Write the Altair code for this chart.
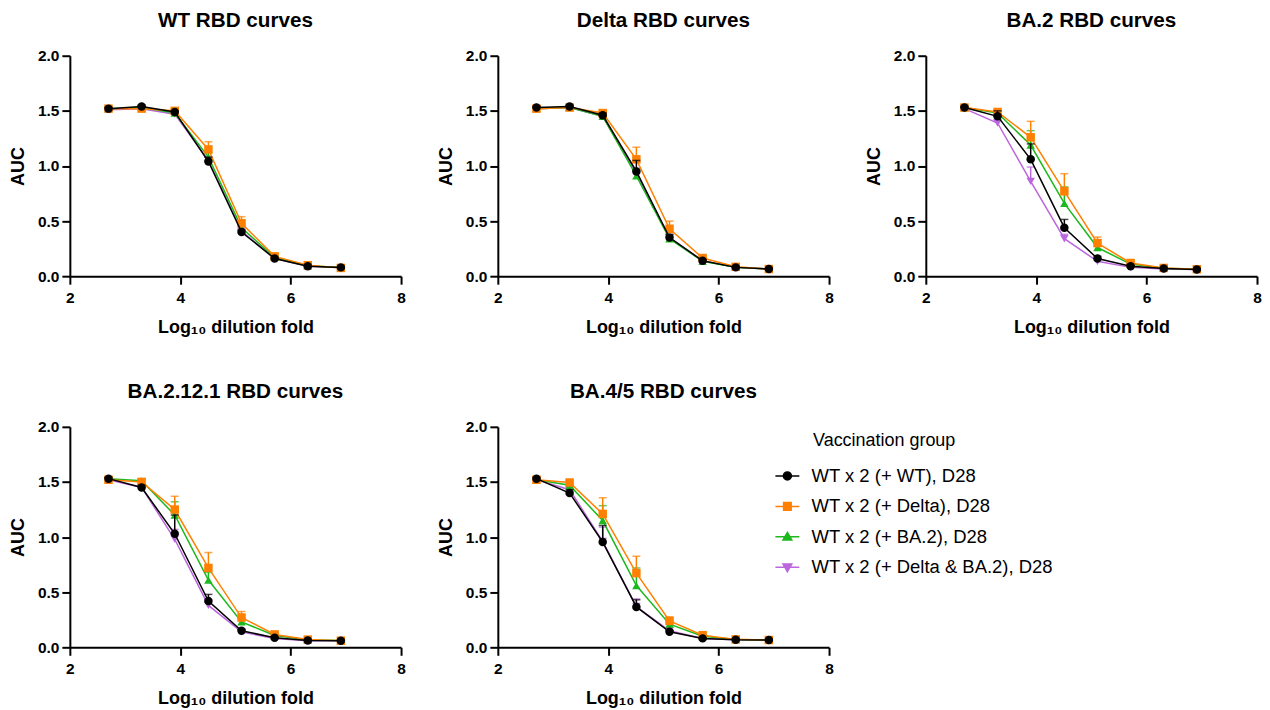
import altair as alt
import pandas as pd

X = [2.70, 3.30, 3.90, 4.51, 5.11, 5.71, 6.31, 6.91]

GROUPS = ["WT x 2 (+ WT), D28", "WT x 2 (+ Delta), D28",
          "WT x 2 (+ BA.2), D28", "WT x 2 (+ Delta & BA.2), D28"]
COLORS = ["#000000", "#FF8000", "#1DB81D", "#BB66DD"]
SHAPES = ["circle", "square", "triangle-up", "triangle-down"]
TITLES = ["WT RBD curves", "Delta RBD curves", "BA.2 RBD curves",
          "BA.2.12.1 RBD curves", "BA.4/5 RBD curves"]

# mean AUC per group (rows: WT, Delta, BA.2, Delta & BA.2 boosts)
WT_MEAN = [[1.52, 1.54, 1.49, 1.04, 0.40, 0.16, 0.09, 0.08],
           [1.52, 1.52, 1.50, 1.15, 0.48, 0.18, 0.10, 0.075],
           [1.52, 1.53, 1.48, 1.08, 0.44, 0.17, 0.095, 0.078],
           [1.51, 1.52, 1.47, 1.05, 0.41, 0.16, 0.09, 0.078]]
WT_SEM = [[0.01, 0.01, 0.01, 0.04, 0.02, 0.01, 0.005, 0.005],
          [0.01, 0.01, 0.02, 0.07, 0.06, 0.02, 0.01, 0.005],
          [0.01, 0.01, 0.01, 0.04, 0.03, 0.01, 0.005, 0.005],
          [0.01, 0.01, 0.01, 0.03, 0.02, 0.01, 0.005, 0.005]]

DELTA_MEAN = [[1.53, 1.54, 1.46, 0.95, 0.35, 0.14, 0.08, 0.065],
              [1.52, 1.53, 1.48, 1.06, 0.43, 0.165, 0.085, 0.065],
              [1.52, 1.53, 1.45, 0.91, 0.34, 0.135, 0.08, 0.065],
              [1.52, 1.53, 1.45, 0.93, 0.35, 0.14, 0.08, 0.065]]
DELTA_SEM = [[0.01, 0.01, 0.02, 0.10, 0.03, 0.01, 0.005, 0.005],
             [0.01, 0.01, 0.02, 0.11, 0.07, 0.02, 0.005, 0.005],
             [0.01, 0.01, 0.02, 0.05, 0.02, 0.01, 0.005, 0.005],
             [0.01, 0.01, 0.02, 0.05, 0.02, 0.01, 0.005, 0.005]]

BA2_MEAN = [[1.53, 1.45, 1.06, 0.44, 0.16, 0.09, 0.07, 0.06],
            [1.53, 1.49, 1.26, 0.77, 0.30, 0.12, 0.075, 0.063],
            [1.53, 1.48, 1.19, 0.66, 0.26, 0.11, 0.073, 0.063],
            [1.52, 1.39, 0.86, 0.34, 0.135, 0.08, 0.065, 0.06]]
BA2_SEM = [[0.01, 0.05, 0.14, 0.075, 0.02, 0.01, 0.005, 0.005],
           [0.01, 0.02, 0.145, 0.16, 0.055, 0.015, 0.005, 0.005],
           [0.01, 0.02, 0.13, 0.15, 0.04, 0.01, 0.005, 0.005],
           [0.01, 0.03, 0.13, 0.04, 0.01, 0.005, 0.005, 0.005]]

BA2121_MEAN = [[1.53, 1.45, 1.03, 0.42, 0.15, 0.087, 0.062, 0.06],
               [1.52, 1.50, 1.25, 0.72, 0.27, 0.117, 0.07, 0.06],
               [1.53, 1.51, 1.20, 0.61, 0.23, 0.107, 0.068, 0.062],
               [1.52, 1.45, 0.98, 0.38, 0.14, 0.08, 0.06, 0.06]]
BA2121_SEM = [[0.01, 0.02, 0.17, 0.06, 0.01, 0.005, 0.005, 0.005],
              [0.01, 0.02, 0.12, 0.14, 0.055, 0.01, 0.005, 0.005],
              [0.01, 0.02, 0.12, 0.07, 0.03, 0.01, 0.005, 0.005],
              [0.01, 0.02, 0.09, 0.05, 0.01, 0.005, 0.005, 0.005]]

BA45_MEAN = [[1.53, 1.40, 0.955, 0.366, 0.141, 0.081, 0.069, 0.066],
             [1.52, 1.495, 1.21, 0.673, 0.24, 0.11, 0.072, 0.066],
             [1.52, 1.47, 1.15, 0.56, 0.21, 0.10, 0.07, 0.065],
             [1.52, 1.43, 0.96, 0.37, 0.15, 0.08, 0.068, 0.065]]
BA45_SEM = [[0.01, 0.03, 0.15, 0.065, 0.01, 0.005, 0.005, 0.005],
            [0.01, 0.01, 0.147, 0.153, 0.035, 0.01, 0.005, 0.005],
            [0.01, 0.02, 0.135, 0.16, 0.03, 0.01, 0.005, 0.005],
            [0.01, 0.02, 0.13, 0.07, 0.01, 0.005, 0.005, 0.005]]

PANEL_MEANS = [WT_MEAN, DELTA_MEAN, BA2_MEAN, BA2121_MEAN, BA45_MEAN]
PANEL_SEMS = [WT_SEM, DELTA_SEM, BA2_SEM, BA2121_SEM, BA45_SEM]

# legend glyphs (unit box -1..1): a short line through the marker
LEGEND_PATHS = [
    "M-3,0H3M1,0A1,1,0,1,1,-1,0A1,1,0,1,1,1,0Z",
    "M-3,0H3M-0.95,-0.95H0.95V0.95H-0.95Z",
    "M-3,0H3M0,-1.1L1.1,0.8H-1.1Z",
    "M-3,0H3M0,1.1L1.1,-0.8H-1.1Z",
]

FONT = "Liberation Sans"
W, H = 332, 221

x_enc = alt.X("x:Q", title="Log₁₀ dilution fold",
              scale=alt.Scale(domain=[2, 8], nice=False),
              axis=alt.Axis(values=[2, 4, 6, 8], format="d"))


def y_enc(field):
    return alt.Y(field, type="quantitative", title="AUC",
                 scale=alt.Scale(domain=[0, 2], nice=False),
                 axis=alt.Axis(values=[0, 0.5, 1.0, 1.5, 2.0], format=".1f"))


def panel(i, with_legend=False):
    rows = []
    for gi, g in enumerate(GROUPS):
        for xv, m, s in zip(X, PANEL_MEANS[i][gi], PANEL_SEMS[i][gi]):
            rows.append({"group": g, "gi": gi, "x": xv, "y": m, "top": m + s})
    df = pd.DataFrame(rows)
    base = alt.Chart(df)
    layers = []
    for gi in [3, 2, 1, 0]:
        b = base.transform_filter(alt.datum.gi == gi)
        c = COLORS[gi]
        layers.append(b.mark_line(color=c, strokeWidth=1.5).encode(x=x_enc, y=y_enc("y")))
        layers.append(b.mark_rule(color=c, strokeWidth=1.5).encode(x=x_enc, y=y_enc("y"), y2="top:Q"))
        layers.append(b.mark_tick(color=c, orient="horizontal", size=8, thickness=1.5)
                      .encode(x=x_enc, y=y_enc("top")))
        layers.append(b.mark_point(shape=SHAPES[gi], filled=True, size=72, color=c, opacity=1)
                      .encode(x=x_enc, y=y_enc("y")))
    if with_legend:
        leg_df = pd.DataFrame({"group": GROUPS})
        leg = alt.Legend(
            title="\u200b" + "\u00a0" * 7 + "Vaccination group",
            orient="none", legendX=710, legendY=377, direction="vertical",
        )
        layers.append(
            alt.Chart(leg_df).transform_filter("false").mark_point(filled=True, opacity=1)
            .encode(
                fill=alt.Fill("group:N", scale=alt.Scale(domain=GROUPS, range=COLORS), legend=leg),
                stroke=alt.Stroke("group:N", scale=alt.Scale(domain=GROUPS, range=COLORS), legend=leg),
                shape=alt.Shape("group:N", scale=alt.Scale(domain=GROUPS, range=LEGEND_PATHS), legend=leg),
            )
        )
    return alt.layer(*layers).properties(
        width=W, height=H,
        title=alt.TitleParams(TITLES[i], frame="group", anchor="middle"),
    )


chart = alt.concat(
    panel(0), panel(1), panel(2), panel(3), panel(4, with_legend=True),
    columns=3, spacing={"row": 151, "column": 97}, bounds="flush",
).properties(
    padding={"left": 1, "top": 1, "right": 0, "bottom": 0},
).configure_view(strokeWidth=0).configure_axis(
    grid=False, domainColor="black", domainWidth=2, tickColor="black",
    tickWidth=2, tickSize=8, labelFont=FONT, labelFontSize=15.5,
    labelFontWeight="bold", labelColor="black", titleFont=FONT,
    titleFontSize=18, titleFontWeight="bold", titleColor="black",
    labelFlush=False,
).configure_axisX(labelPadding=6, titlePadding=13).configure_axisY(
    labelPadding=3, titlePadding=10
).configure_title(
    font=FONT, fontSize=20.7, fontWeight="bold", color="black", offset=17
).configure_legend(
    labelFont=FONT, labelFontSize=18.5, labelColor="black", titleFont=FONT,
    titleFontSize=18, titleFontWeight="normal", titleColor="black",
    symbolSize=64, symbolStrokeWidth=1.5, labelOffset=15, rowPadding=11.5,
    titlePadding=17, labelLimit=400, titleLimit=400,
)

chart.save("out.html", embed_options={"renderer": "svg", "actions": False})
